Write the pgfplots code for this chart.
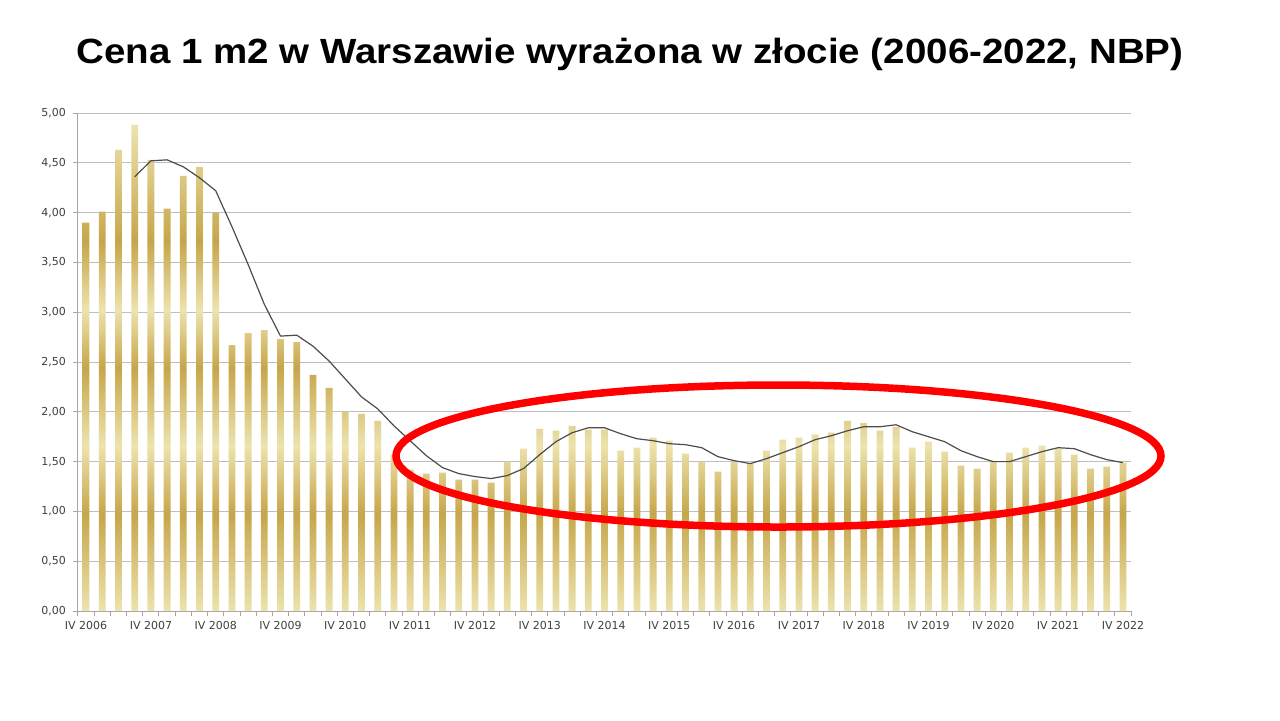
\documentclass[border=0pt]{standalone}
\usepackage{pgfplots}
\pgfplotsset{compat=1.18}
\usepackage{pgfplotstable}
\usepackage{fontspec}
\setmainfont{DejaVu Sans}
\newfontfamily\titlefont{Liberation Sans}
\definecolor{gL}{HTML}{EDE3AE}
\definecolor{gD}{HTML}{C6A64A}
\definecolor{gridc}{HTML}{BFBFBF}
\definecolor{axc}{HTML}{A6A6A6}
\definecolor{tickc}{HTML}{404040}
\definecolor{linec}{HTML}{4D4D4D}
\pgfdeclareverticalshading{goldbar}{100bp}{color(0bp)=(gL); color(25bp)=(gL); color(35bp)=(gD); color(42bp)=(gL); color(50bp)=(gD); color(56bp)=(gL); color(63bp)=(gD); color(75bp)=(gL); color(100bp)=(gL)}

\pgfplotstableread{
x y
0 3.90
1 4.01
2 4.63
3 4.88
4 4.53
5 4.04
6 4.37
7 4.46
8 4.00
9 2.67
10 2.79
11 2.82
12 2.73
13 2.70
14 2.37
15 2.24
16 2.00
17 1.98
18 1.91
19 1.57
20 1.42
21 1.38
22 1.39
23 1.32
24 1.32
25 1.29
26 1.50
27 1.63
28 1.83
29 1.81
30 1.86
31 1.82
32 1.82
33 1.61
34 1.64
35 1.74
36 1.71
37 1.58
38 1.50
39 1.40
40 1.50
41 1.48
42 1.61
43 1.72
44 1.74
45 1.77
46 1.79
47 1.91
48 1.89
49 1.81
50 1.85
51 1.64
52 1.70
53 1.60
54 1.46
55 1.43
56 1.50
57 1.59
58 1.64
59 1.66
60 1.63
61 1.57
62 1.43
63 1.45
64 1.49
}\bars

\pgfplotstableread{
x y
3 4.36
4 4.52
5 4.53
6 4.46
7 4.35
8 4.22
9 3.86
10 3.48
11 3.08
12 2.76
13 2.77
14 2.66
15 2.51
16 2.33
17 2.15
18 2.03
19 1.86
20 1.71
21 1.56
22 1.44
23 1.38
24 1.35
25 1.33
26 1.36
27 1.43
28 1.57
29 1.70
30 1.79
31 1.84
32 1.84
33 1.78
34 1.73
35 1.71
36 1.68
37 1.67
38 1.64
39 1.55
40 1.51
41 1.48
42 1.53
43 1.59
44 1.65
45 1.72
46 1.76
47 1.81
48 1.85
49 1.85
50 1.87
51 1.80
52 1.75
53 1.70
54 1.61
55 1.55
56 1.50
57 1.50
58 1.55
59 1.60
60 1.64
61 1.63
62 1.57
63 1.52
64 1.49
}\avg

\begin{document}
\begin{tikzpicture}
\path[use as bounding box, fill=white] (0,0) rectangle (640pt,-360pt);
\node[anchor=base, inner sep=0pt, font=\titlefont\bfseries\fontsize{17.5}{20}\selectfont] at (315pt,-31.7pt) {\scalebox{1.1}[1]{Cena 1 m2 w Warszawie wyrażona w złocie (2006-2022, NBP)}};
\begin{axis}[
  at={(39pt,-305.5pt)}, anchor=south west,
  scale only axis, width=526.5pt, height=249pt,
  xmin=-0.5, xmax=64.5, ymin=0, ymax=5,
  axis x line=bottom, axis y line=left,
  axis line style={-, draw=axc, line width=0.5pt},
  ytick={0,0.5,1,1.5,2,2.5,3,3.5,4,4.5,5},
  yticklabels={{0,00},{0,50},{1,00},{1,50},{2,00},{2,50},{3,00},{3,50},{4,00},{4,50},{5,00}},
  ymajorgrids, grid style={gridc, line width=0.5pt},
  xtick={-0.5,0.5,...,64.5}, xticklabels={},
  extra x ticks={0,4,8,12,16,20,24,28,32,36,40,44,48,52,56,60,64},
  extra x tick labels={IV 2006,IV 2007,IV 2008,IV 2009,IV 2010,IV 2011,IV 2012,IV 2013,IV 2014,IV 2015,IV 2016,IV 2017,IV 2018,IV 2019,IV 2020,IV 2021,IV 2022},
  extra x tick style={major tick length=0pt, tick label style={yshift=-1.5pt}},
  tick align=outside, major tick length=2.5pt,
  tick style={axc, line width=0.5pt},
  tick label style={font=\fontsize{5.5}{6.5}\selectfont, text=tickc},
  clip=false,
]
\addplot[ybar, bar width=3.4pt, draw=none, shade, shading=goldbar] table[x=x, y=y] {\bars};
\addplot[linec, line width=0.6pt, mark=none] table[x=x, y=y] {\avg};
\end{axis}
\draw[red, line width=3.75pt] (389.25pt,-228pt) ellipse [x radius=191.25pt, y radius=35.5pt];
\end{tikzpicture}
\end{document}
